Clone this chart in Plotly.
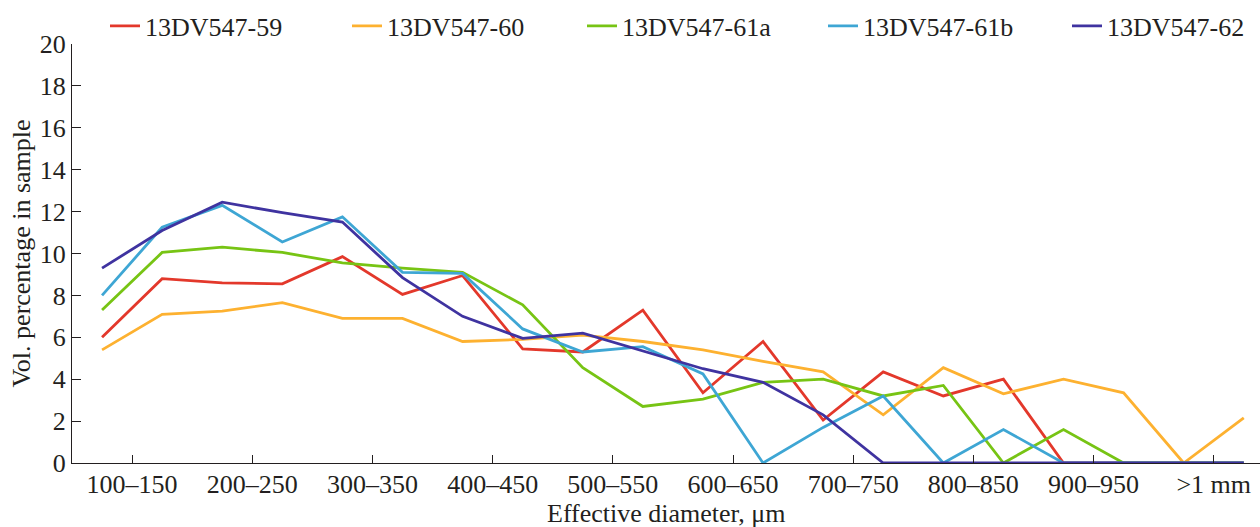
import plotly.graph_objects as go

# point index along the size axis (20 size bins)
points = list(range(20))
tick_labels = ["100\u2013150", "200\u2013250", "300\u2013350", "400\u2013450", "500\u2013550",
               "600\u2013650", "700\u2013750", "800\u2013850", "900\u2013950", ">1 mm"]
tick_positions = [2 * i + 0.5 for i in range(len(tick_labels))]

names = ["13DV547-59", "13DV547-60", "13DV547-61a", "13DV547-61b", "13DV547-62"]
s59 = [6.0, 8.8, 8.6, 8.55, 9.85, 8.05, 8.95, 5.45, 5.3, 7.3, 3.35, 5.8, 2.05, 4.35, 3.2, 4.0, 0, 0, 0, 0]
s60 = [5.4, 7.1, 7.25, 7.65, 6.9, 6.9, 5.8, 5.9, 6.1, 5.8, 5.4, 4.85, 4.35, 2.3, 4.55, 3.3, 4.0, 3.35, 0, 2.15]
s61a = [7.3, 10.05, 10.3, 10.05, 9.55, 9.3, 9.1, 7.55, 4.55, 2.7, 3.05, 3.85, 4.0, 3.2, 3.7, 0, 1.6, 0, 0, 0]
s61b = [8.0, 11.25, 12.3, 10.55, 11.75, 9.1, 9.05, 6.4, 5.3, 5.55, 4.25, 0, 1.7, 3.2, 0, 1.6, 0, 0, 0, 0]
s62 = [9.3, 11.1, 12.45, 11.95, 11.5, 8.85, 7.0, 5.95, 6.2, 5.35, 4.5, 3.85, 2.3, 0, 0, 0, 0, 0, 0, 0]
series = [s59, s60, s61a, s61b, s62]
colors = ["#e3382b", "#fdb130", "#77c414", "#3ea6d4", "#3f33a0"]

FONT = "Liberation Serif"
TXT = "#231f20"
L, T, B, W = 72, 44, 64, 1188
PH = 527 - T - B

legend_ids = ["legend", "legend2", "legend3", "legend4", "legend5"]
legend_text_x = [146, 388, 623, 864, 1108]  # pixel x where each legend label starts

fig = go.Figure()
for n, ys, c, lid in zip(names, series, colors, legend_ids):
    fig.add_trace(go.Scatter(x=points, y=ys, mode="lines", name=n, legend=lid,
                             line=dict(color=c, width=2.8)))

layout_legends = {}
for lid, tx in zip(legend_ids, legend_text_x):
    layout_legends[lid] = dict(
        orientation="h", x=(tx - 41 - L) / W, xanchor="left",
        y=1 + (T - 26) / PH, yanchor="middle",
        font=dict(family=FONT, size=26, color=TXT),
        bgcolor="rgba(0,0,0,0)", borderwidth=0)

fig.update_layout(
    width=1260, height=527,
    margin=dict(l=L, r=0, t=T, b=B),
    paper_bgcolor="white", plot_bgcolor="white",
    font=dict(family=FONT, size=26, color=TXT),
    showlegend=True,
    **layout_legends,
)
fig.add_annotation(text="Effective diameter, \u03bcm", xref="paper", yref="paper",
                   x=0.5, y=-(513 - 463) / PH, xanchor="center", yanchor="middle",
                   showarrow=False, font=dict(family=FONT, size=26, color=TXT))
fig.update_xaxes(
    range=[-0.5, 19.27], tickmode="array", tickvals=tick_positions, ticktext=tick_labels,
    ticks="inside", ticklen=8, tickwidth=1, tickcolor=TXT, automargin=False,
    ticklabelstandoff=-2,
    showline=True, linecolor=TXT, linewidth=1.2, showgrid=False, zeroline=False,
    tickfont=dict(family=FONT, size=26, color=TXT),
)
fig.update_yaxes(
    range=[0, 20], dtick=2, ticks="inside", ticklen=9, tickwidth=1, tickcolor=TXT,
    showline=True, linecolor=TXT, linewidth=1.2, showgrid=False, zeroline=False,
    automargin=False,
    tickfont=dict(family=FONT, size=26, color=TXT),
    title=dict(text="Vol. percentage in sample", font=dict(family=FONT, size=26, color=TXT), standoff=1),
)
fig.write_html("out.html",
               config={"displayModeBar": False},
               post_script="document.body.style.margin='0';document.body.style.overflow='hidden';")
